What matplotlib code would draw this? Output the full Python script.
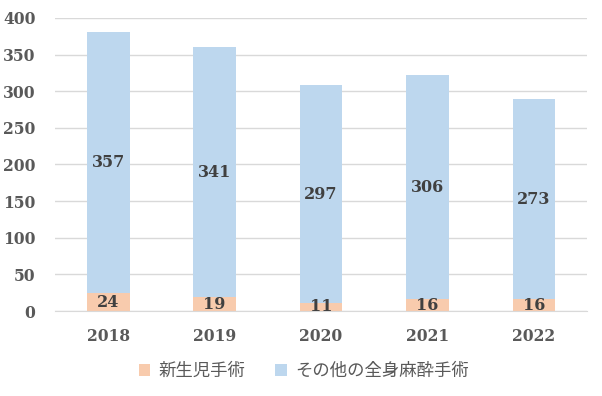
import numpy as np
import matplotlib.pyplot as plt

years = ['2018', '2019', '2020', '2021', '2022']
neonatal = [24, 19, 11, 16, 16]
other = [357, 341, 297, 306, 273]
labels = ['新生児手術', 'その他の全身麻酔手術']

text_color = '#595959'
num_font = {'family': 'DejaVu Serif', 'weight': 'bold', 'size': 11.5}

fig = plt.figure(figsize=(6.02, 3.96), dpi=100)
ax = fig.add_axes([0.0914, 0.2146, 0.884, 0.74])

x = np.arange(len(years))
b1 = ax.bar(x, neonatal, width=0.4, color='#F8CBAD', label=labels[0], zorder=2)
b2 = ax.bar(x, other, width=0.4, bottom=neonatal, color='#BDD7EE', label=labels[1], zorder=2)

# value labels in the middle of each segment
for i in range(len(years)):
    ax.text(x[i], neonatal[i] / 2, str(neonatal[i]), ha='center', va='center',
            color='#404040', **num_font)
    ax.text(x[i], neonatal[i] + other[i] / 2, str(other[i]), ha='center', va='center',
            color='#404040', **num_font)

ax.set_ylim(0, 400)
ax.set_yticks(range(0, 401, 50))
ax.set_xlim(-0.5, len(years) - 0.5)
ax.set_xticks(x)
ax.set_xticklabels(years)
ax.grid(axis='y', color='#D9D9D9', linewidth=1, zorder=0)
for s in ['top', 'right', 'left']:
    ax.spines[s].set_visible(False)
ax.spines['bottom'].set_color('#D9D9D9')
ax.tick_params(length=0, colors=text_color)
ax.tick_params(axis='x', pad=12)
ax.tick_params(axis='y', pad=14)
for t in ax.get_xticklabels() + ax.get_yticklabels():
    t.set_fontfamily('DejaVu Serif')
    t.set_fontweight('bold')
    t.set_fontsize(11.2)

leg = fig.legend(handles=[b1, b2], loc='center', bbox_to_anchor=(0.505, 0.063), ncol=2,
                 frameon=False, handlelength=0.65, handleheight=0.65, columnspacing=1.7,
                 handletextpad=0.5,
                 prop={'family': ['Noto Sans CJK JP', 'DejaVu Sans'], 'size': 12.5})
for t in leg.get_texts():
    t.set_color(text_color)

fig.savefig('out.png', dpi=100)
